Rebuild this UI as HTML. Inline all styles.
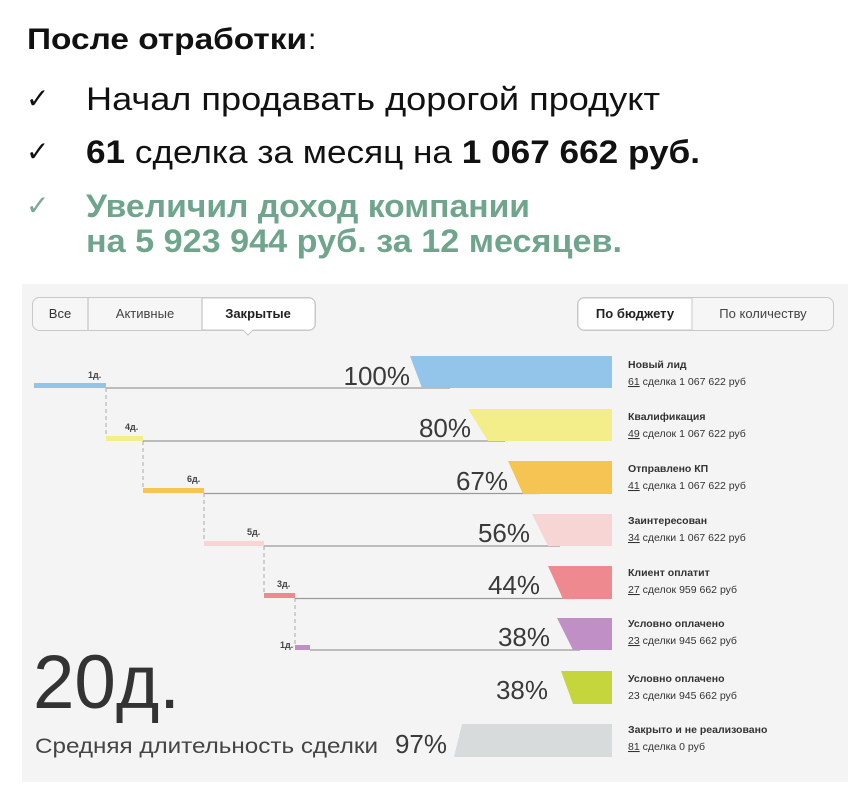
<!DOCTYPE html>
<html><head><meta charset="utf-8"><style>
html,body{margin:0;padding:0;background:#fff;}
svg{display:block;}
text{font-family:"Liberation Sans","DejaVu Sans",sans-serif;}
</style></head><body>
<svg width="862" height="798" viewBox="0 0 862 798" xmlns="http://www.w3.org/2000/svg">
<rect width="862" height="798" fill="#fff"/>
<!-- header -->
<text x="27" y="49" font-size="30" font-weight="bold" fill="#111" textLength="280" lengthAdjust="spacingAndGlyphs">После отработки</text>
<text x="308" y="49" font-size="30" fill="#111">:</text>
<text x="26" y="108" font-size="28" fill="#111">✓</text>
<text x="86" y="110" font-size="32" fill="#111" textLength="574" lengthAdjust="spacingAndGlyphs">Начал продавать дорогой продукт</text>
<text x="26" y="161" font-size="28" fill="#111">✓</text>
<text x="86" y="163" font-size="32" fill="#111" textLength="614" lengthAdjust="spacingAndGlyphs"><tspan font-weight="bold">61</tspan> сделка за месяц на <tspan font-weight="bold">1 067 662 руб.</tspan></text>
<text x="26" y="215" font-size="28" fill="#7aa994">✓</text>
<text x="86" y="217" font-size="32" font-weight="bold" fill="#6fa58d" textLength="444" lengthAdjust="spacingAndGlyphs">Увеличил доход компании</text>
<text x="86" y="252" font-size="32" font-weight="bold" fill="#6fa58d" textLength="536" lengthAdjust="spacingAndGlyphs">на 5 923 944 руб. за 12 месяцев.</text>

<!-- panel -->
<rect x="22" y="284" width="826" height="498" fill="#f4f4f4"/>
<!-- tabs left -->
<rect x="32.5" y="297.5" width="283" height="33" rx="7" fill="#f6f6f6" stroke="#c8c8c8"/>
<path d="M202 298 H309 a6 6 0 0 1 6 6 V324 a6 6 0 0 1 -6 6 H253 l-5 5 l-5 -5 H202 Z" fill="#fff" stroke="#c8c8c8"/>
<line x1="88" y1="298" x2="88" y2="330" stroke="#bbb"/>
<line x1="202" y1="298" x2="202" y2="330" stroke="#bbb"/>
<text x="60" y="318" font-size="13" fill="#333" text-anchor="middle">Все</text>
<text x="145" y="318" font-size="13" fill="#444" text-anchor="middle">Активные</text>
<text x="258" y="318" font-size="13" font-weight="bold" fill="#222" text-anchor="middle">Закрытые</text>
<!-- tabs right -->
<rect x="577.5" y="297.5" width="256" height="33" rx="7" fill="#f6f6f6" stroke="#c8c8c8"/>
<path d="M692 298 H584 a6 6 0 0 0 -6 6 V324 a6 6 0 0 0 6 6 H692 Z" fill="#fff" stroke="#c8c8c8"/>
<text x="635" y="318" font-size="13" font-weight="bold" fill="#222" text-anchor="middle">По бюджету</text>
<text x="763" y="318" font-size="13" fill="#444" text-anchor="middle">По количеству</text>

<!-- gray lines -->
<g stroke="#9a9a9a" stroke-width="1.3">
<line x1="106" y1="388" x2="450" y2="388"/>
<line x1="143" y1="441" x2="505" y2="441"/>
<line x1="204" y1="493.5" x2="540" y2="493.5"/>
<line x1="264" y1="546" x2="560" y2="546"/>
<line x1="295" y1="598.5" x2="575" y2="598.5"/>
<line x1="310" y1="650" x2="580" y2="650"/>
</g>
<g stroke="#aaa" stroke-width="1" stroke-dasharray="4,3">
<line x1="106" y1="388" x2="106" y2="437"/>
<line x1="143" y1="441" x2="143" y2="489"/>
<line x1="204" y1="493" x2="204" y2="542"/>
<line x1="264" y1="546" x2="264" y2="594"/>
<line x1="295" y1="598" x2="295" y2="645"/>
</g>
<!-- segments -->
<rect x="34" y="383" width="72" height="5" fill="#93c4ea"/>
<rect x="106" y="436" width="37" height="5" fill="#f3ee8a"/>
<rect x="143" y="488" width="61" height="5" fill="#f6c453"/>
<rect x="204" y="541" width="60" height="5" fill="#f8d5d5"/>
<rect x="264" y="593" width="31" height="5" fill="#ee8a8f"/>
<rect x="295" y="645" width="15" height="5" fill="#c08fc6"/>
<g font-size="9" font-weight="bold" fill="#444">
<text x="88" y="378">1д.</text>
<text x="125" y="430">4д.</text>
<text x="187" y="482">6д.</text>
<text x="247" y="535">5д.</text>
<text x="277" y="587">3д.</text>
<text x="280" y="648">1д.</text>
</g>

<!-- bars -->
<polygon points="410,356 612,356 612,388 422,388" fill="#93c4ea"/>
<polygon points="468,409 612,409 612,441 488,441" fill="#f3ee8a"/>
<polygon points="508,461 612,461 612,494 523,494" fill="#f6c453"/>
<polygon points="532,514 612,514 612,546 548,546" fill="#f8d5d5"/>
<polygon points="548,566 612,566 612,599 563,599" fill="#ee8a8f"/>
<polygon points="557,618 612,618 612,650 573,650" fill="#c08fc6"/>
<polygon points="561,671 612,671 612,704 573,704" fill="#c5d53c"/>
<polygon points="462,724 612,724 612,757 454,757" fill="#d7dbdb"/>

<g font-size="26" fill="#3a3a3a" text-anchor="end">
<text x="410" y="385">100%</text>
<text x="471" y="437">80%</text>
<text x="508" y="490">67%</text>
<text x="530" y="542">56%</text>
<text x="540" y="594">44%</text>
<text x="550" y="646">38%</text>
<text x="548" y="699">38%</text>
<text x="447" y="753">97%</text>
</g>

<!-- right labels -->
<g font-size="10.5" fill="#333">
<text x="628" y="368" font-weight="bold">Новый лид</text>
<text x="628" y="385"><tspan text-decoration="underline">61</tspan> сделка 1 067 622 руб</text>
<text x="628" y="420" font-weight="bold">Квалификация</text>
<text x="628" y="437"><tspan text-decoration="underline">49</tspan> сделок 1 067 622 руб</text>
<text x="628" y="472" font-weight="bold">Отправлено КП</text>
<text x="628" y="489"><tspan text-decoration="underline">41</tspan> сделка 1 067 622 руб</text>
<text x="628" y="524" font-weight="bold">Заинтересован</text>
<text x="628" y="541"><tspan text-decoration="underline">34</tspan> сделки 1 067 622 руб</text>
<text x="628" y="576" font-weight="bold">Клиент оплатит</text>
<text x="628" y="593"><tspan text-decoration="underline">27</tspan> сделок 959 662 руб</text>
<text x="628" y="627" font-weight="bold">Условно оплачено</text>
<text x="628" y="644"><tspan text-decoration="underline">23</tspan> сделки 945 662 руб</text>
<text x="628" y="682" font-weight="bold">Условно оплачено</text>
<text x="628" y="699">23 сделки 945 662 руб</text>
<text x="628" y="733" font-weight="bold">Закрыто и не реализовано</text>
<text x="628" y="750"><tspan text-decoration="underline">81</tspan> сделка 0 руб</text>
</g>

<text x="33" y="708" font-size="76" fill="#333" textLength="147" lengthAdjust="spacingAndGlyphs">20д.</text>
<text x="35" y="753" font-size="21" fill="#444" textLength="343" lengthAdjust="spacingAndGlyphs">Средняя длительность сделки</text>
</svg>
</body></html>
